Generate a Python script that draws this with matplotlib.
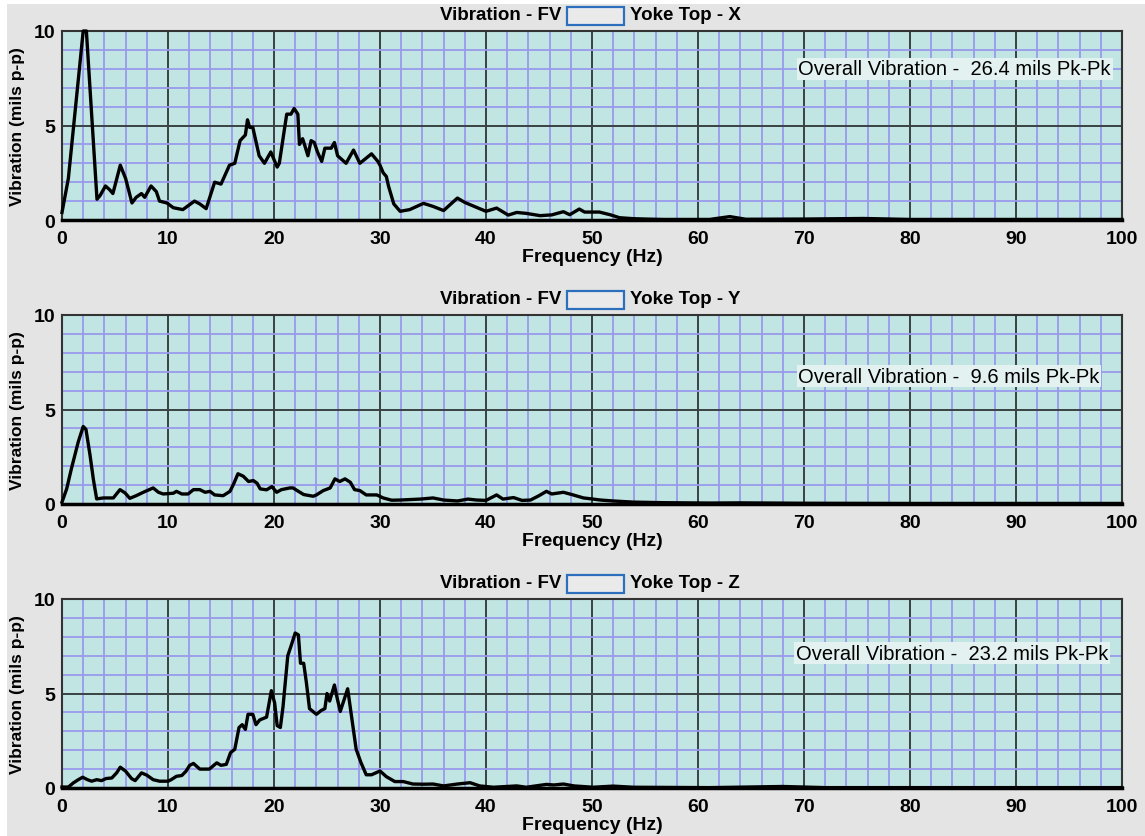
import matplotlib.pyplot as plt
from matplotlib.patches import Rectangle
from matplotlib.ticker import MultipleLocator

plt.rcParams['font.family'] = ['Liberation Sans', 'DejaVu Sans']

# spectrum, Yoke Top X direction
freq_x = [0, 0.6, 2.0, 2.3, 3.3, 3.6, 4.1, 4.5, 4.8, 5.5, 6.0, 6.6, 7.0, 7.5, 7.8,
          8.4, 8.9, 9.2, 9.9, 10.5, 11.4, 12.5, 13.0, 13.6, 14.4, 15.0, 15.8, 16.3,
          16.8, 17.3, 17.5, 17.7, 18.0, 18.6, 19.1, 19.7, 20.3, 20.5, 21.2, 21.6,
          21.9, 22.25, 22.4, 22.7, 22.9, 23.2, 23.5, 23.8, 24.1, 24.5, 24.8, 25.4,
          25.7, 26.0, 26.8, 27.5, 28.1, 29.2, 29.5, 29.8, 30.0, 30.3, 30.6, 30.8,
          31.3, 31.9, 32.8, 34.1, 35.0, 36.0, 37.3, 38.0, 39.1, 40.0, 41.0, 42.1,
          42.9, 43.8, 45.1, 46.2, 47.3, 47.9, 48.8, 49.3, 50.7, 51.7, 52.6, 53.9,
          55.1, 56.7, 61.1, 63.0, 64.5, 70, 75.6, 80, 90, 100]
amp_x = [0.4, 2.2, 10.0, 10.0, 1.1, 1.3, 1.8, 1.6, 1.4, 2.9, 2.2, 0.9, 1.2, 1.4, 1.2,
         1.8, 1.5, 1.0, 0.9, 0.65, 0.55, 1.0, 0.85, 0.6, 2.0, 1.9, 2.9, 3.0,
         4.2, 4.5, 5.3, 4.9, 4.9, 3.4, 3.0, 3.6, 2.8, 3.0, 5.6, 5.6,
         5.9, 5.6, 4.0, 4.3, 3.95, 3.4, 4.2, 4.1, 3.6, 3.1, 3.8, 3.8,
         4.1, 3.4, 3.0, 3.7, 3.0, 3.5, 3.3, 3.1, 2.9, 2.5, 2.3, 1.8,
         0.85, 0.46, 0.55, 0.88, 0.72, 0.5, 1.16, 0.93, 0.67, 0.46, 0.63, 0.26,
         0.40, 0.35, 0.23, 0.27, 0.44, 0.28, 0.58, 0.42, 0.42, 0.28, 0.12, 0.07,
         0.05, 0.03, 0.03, 0.18, 0.04, 0.05, 0.08, 0.03, 0.03, 0.03]

# spectrum, Yoke Top Y direction
freq_y = [0, 0.44, 0.9, 1.54, 2.0, 2.26, 2.64, 2.96, 3.27, 3.9, 4.84, 5.47, 5.94,
          6.4, 7.0, 7.67, 8.6, 9.1, 9.55, 10.5, 10.8, 11.3, 11.9, 12.4, 13.0, 13.5,
          13.96, 14.4, 15.2, 15.85, 16.2, 16.6, 17.1, 17.6, 18.05, 18.4, 18.7, 19.3,
          19.8, 20.25, 20.7, 21.5, 21.8, 22.3, 22.8, 23.7, 24.0, 24.65, 25.3, 25.75,
          26.2, 26.7, 27.2, 27.6, 28.1, 28.7, 29.7, 30.3, 31.1, 31.9, 33.8, 35.0,
          36.0, 37.3, 38.3, 39.1, 40.0, 41.0, 41.6, 42.6, 43.4, 44.2, 45.0, 45.7,
          46.2, 47.3, 48.1, 49.2, 50.1, 50.8, 52.0, 53.9, 56.7, 61.1, 64, 70, 80,
          90, 100]
amp_y = [0.1, 0.8, 1.9, 3.3, 4.1, 3.95, 2.6, 1.3, 0.27, 0.32, 0.32, 0.76, 0.59,
         0.3, 0.44, 0.62, 0.85, 0.62, 0.53, 0.57, 0.67, 0.53, 0.53, 0.76, 0.76, 0.62,
         0.67, 0.48, 0.44, 0.67, 1.07, 1.6, 1.47, 1.19, 1.24, 1.1, 0.8, 0.75,
         0.92, 0.62, 0.76, 0.85, 0.85, 0.67, 0.5, 0.41, 0.48, 0.71, 0.85, 1.33,
         1.19, 1.33, 1.15, 0.76, 0.71, 0.48, 0.48, 0.32, 0.2, 0.21, 0.26, 0.32,
         0.21, 0.16, 0.26, 0.21, 0.19, 0.48, 0.26, 0.34, 0.19, 0.21, 0.44, 0.67,
         0.53, 0.62, 0.5, 0.32, 0.26, 0.21, 0.16, 0.1, 0.07, 0.05, 0.06, 0.04, 0.03,
         0.03, 0.03]

# spectrum, Yoke Top Z direction
freq_z = [0, 0.6, 1.07, 1.54, 1.95, 2.4, 2.8, 3.27, 3.74, 4.15, 4.7, 5.15, 5.5,
          6.0, 6.56, 6.9, 7.5, 8.0, 8.6, 9.2, 10.0, 10.3, 10.8, 11.3, 11.7, 12.05,
          12.4, 13.0, 13.9, 14.6, 15.0, 15.5, 15.9, 16.3, 16.7, 17.0, 17.3, 17.55,
          18.0, 18.3, 18.65, 19.3, 19.75, 20.06, 20.3, 20.6, 20.85, 21.3, 21.6, 22.0,
          22.3, 22.5, 22.8, 23.05, 23.35, 24.0, 24.45, 24.8, 25.0, 25.25, 25.7, 25.9,
          26.25, 26.95, 27.4, 27.75, 28.2, 28.7, 29.2, 30.0, 30.6, 31.4, 32.2, 33.1,
          34.1, 35.0, 36.0, 37.3, 38.5, 39.4, 40.7, 42.9, 43.8, 45.7, 46.4, 47.3,
          48.3, 50.1, 52.0, 53.9, 61.1, 68.0, 72, 80, 90, 100]
amp_z = [0.05, 0.05, 0.27, 0.44, 0.57, 0.44, 0.36, 0.44, 0.39, 0.5, 0.53, 0.8, 1.1,
         0.89, 0.5, 0.39, 0.8, 0.68, 0.44, 0.36, 0.36, 0.44, 0.62, 0.66, 0.89, 1.2,
         1.3, 1.0, 1.0, 1.33, 1.2, 1.25, 1.87, 2.05, 3.2, 3.35, 3.1, 3.9,
         3.9, 3.35, 3.6, 3.75, 5.15, 4.5, 3.3, 3.2, 4.3, 7.0, 7.5, 8.2,
         8.1, 6.6, 6.6, 5.6, 4.2, 3.9, 4.1, 4.2, 5.0, 4.6, 5.45, 4.9,
         4.05, 5.25, 3.45, 2.05, 1.35, 0.7, 0.7, 0.9, 0.6, 0.34, 0.34, 0.21,
         0.2, 0.21, 0.11, 0.21, 0.28, 0.11, 0.04, 0.11, 0.04, 0.19, 0.16, 0.21,
         0.11, 0.04, 0.1, 0.04, 0.02, 0.08, 0.02, 0.02, 0.02, 0.02]

directions = ['X', 'Y', 'Z']
overall = ['26.4', '9.6', '23.2']
x_ticks = [0, 10, 20, 30, 40, 50, 60, 70, 80, 90, 100]
y_ticks = [0, 5, 10]

W, H = 1145, 837
fig = plt.figure(figsize=(W / 100, H / 100), dpi=100, facecolor='white')
# grey window area, thin white strip at top and left
fig.patches.append(Rectangle((7 / W, 0), 1, (H - 5) / H, transform=fig.transFigure,
                             facecolor='#e4e4e4', edgecolor='none', zorder=-10))

tops = [32, 316, 600]
# where the overall-level note sits in each panel (axes fraction)
note_xy = [(0.9896, 0.80), (0.979, 0.677), (0.987, 0.713)]
for i, (f, a) in enumerate([(freq_x, amp_x), (freq_y, amp_y), (freq_z, amp_z)]):
    top = tops[i]
    ax = fig.add_axes([62 / W, 1 - (top + 189) / H, 1060 / W, 189 / H])
    ax.set_facecolor('#c1e5e3')
    ax.set_xlim(0, 100)
    ax.set_ylim(0, 10)
    ax.xaxis.set_minor_locator(MultipleLocator(2))
    ax.yaxis.set_minor_locator(MultipleLocator(1))
    ax.set_xticks(x_ticks)
    ax.set_yticks(y_ticks)
    ax.grid(which='minor', color='#9a9aec', lw=1.3, zorder=1)
    ax.grid(which='major', color='#3a4242', lw=1.4, zorder=2)
    ax.set_axisbelow(True)
    ax.tick_params(which='both', length=0, labelsize=14, pad=7)
    ax.tick_params(axis='y', pad=5)
    for lab in ax.get_xticklabels() + ax.get_yticklabels():
        lab.set_fontweight('bold')
    for s in ax.spines.values():
        s.set_color('#333333')
        s.set_linewidth(1.5)
    ax.spines['bottom'].set_color('black')
    ax.spines['bottom'].set_linewidth(2.5)

    ax.plot(f, a, color='black', lw=2.4, clip_on=False, zorder=5,
            solid_joinstyle='round')

    ax.set_xlabel('Frequency (Hz)', fontsize=14, fontweight='bold', labelpad=1)
    ax.set_ylabel('Vibration (mils p-p)', fontsize=12.5, fontweight='bold', labelpad=6)

    nx, ny = note_xy[i]
    ax.text(nx, ny, 'Overall Vibration -  %s mils Pk-Pk' % overall[i],
            transform=ax.transAxes, ha='right', va='center', fontsize=14.5,
            zorder=6, bbox=dict(boxstyle='square,pad=0.08', facecolor='#e3f1f0',
                                edgecolor='none'))

    # header: name, empty blue box, location
    ty = 1 + 16 / 189
    ax.text((561 - 62) / 1060, ty, 'Vibration - FV', transform=ax.transAxes,
            ha='right', va='center', fontsize=13.5, fontweight='bold', clip_on=False)
    ax.add_patch(Rectangle(((567 - 62) / 1060, 1 + 6 / 189), 57 / 1060, 18 / 189,
                           transform=ax.transAxes, facecolor='#eaeaea',
                           edgecolor='#2c6fbd', lw=1.6, clip_on=False))
    ax.text((630 - 62) / 1060, ty, 'Yoke Top - %s' % directions[i],
            transform=ax.transAxes, ha='left', va='center', fontsize=13.5,
            fontweight='bold', clip_on=False)

fig.savefig('out.png', dpi=100, facecolor=fig.get_facecolor())
